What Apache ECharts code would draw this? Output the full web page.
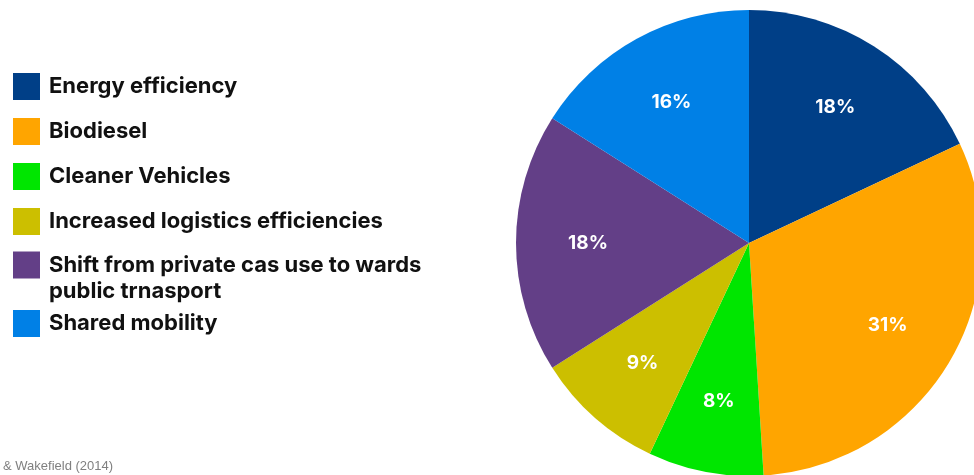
<!DOCTYPE html>
<html>
<head>
<meta charset="utf-8">
<script src="https://cdn.jsdelivr.net/npm/echarts@6/dist/echarts.min.js"></script>
<style>
  html, body { margin: 0; padding: 0; background: #ffffff; }
  #chart { width: 974px; height: 475px; }
</style>
</head>
<body>
<div id="chart"></div>
<script>
// ---- data ----
const categories = [
  'Energy efficiency',
  'Biodiesel',
  'Cleaner Vehicles',
  'Increased logistics efficiencies',
  'Shift from private cas use to wards public trnasport',
  'Shared mobility'
];
const shares = [18, 31, 8, 9, 18, 16];
const colors = ['#003F87', '#FFA500', '#00E600', '#CCBF00', '#633F87', '#0080E6'];
const sourceNote = '& Wakefield (2014)';

const FONT = 'Inter';
const seriesData = categories.map((c, i) => ({ name: c, value: shares[i], itemStyle: { color: colors[i] } }));

const legendText = {
  fontFamily: FONT, fontWeight: 700, fontSize: 22, color: '#111111',
  lineHeight: 26, padding: [0, 0, 0, 4]
};
const legendBase = {
  orient: 'vertical', left: 13, padding: 0, itemWidth: 27, itemHeight: 27, itemGap: 18,
  icon: 'rect', selectedMode: false, textStyle: legendText
};

const chart = echarts.init(document.getElementById('chart'), null, { renderer: 'canvas' });
chart.setOption({
  backgroundColor: '#ffffff',
  animation: false,
  title: {
    text: sourceNote, left: 3, top: 460,
    textStyle: { fontFamily: 'Liberation Sans', fontWeight: 'normal', fontSize: 13, color: '#808080' },
    padding: 0
  },
  legend: [
    Object.assign({}, legendBase, { top: 73, data: categories.slice(0, 4) }),
    Object.assign({}, legendBase, {
      top: 226,
      data: [categories[4]],
      // leading blank line keeps the first text line level with the swatch
      formatter: n => '\n' + n.replace(' public', '\npublic')
    }),
    Object.assign({}, legendBase, { top: 310, data: categories.slice(5) })
  ],
  series: [
    {
      type: 'pie', center: [749, 243], radius: 233, startAngle: 90, clockwise: true,
      data: seriesData, label: { show: false }, labelLine: { show: false },
      silent: true
    },
    {
      type: 'pie', center: [749, 243], radius: [0, 316], startAngle: 90, clockwise: true,
      data: shares.map((v, i) => ({ name: categories[i], value: v })),
      itemStyle: { color: 'rgba(0,0,0,0)' },
      silent: true,
      label: {
        show: true, position: 'inside', formatter: '{d}%',
        fontFamily: FONT, fontWeight: 700, fontSize: 19, color: '#ffffff'
      },
      labelLine: { show: false }
    }
  ]
});
</script>
</body>
</html>
